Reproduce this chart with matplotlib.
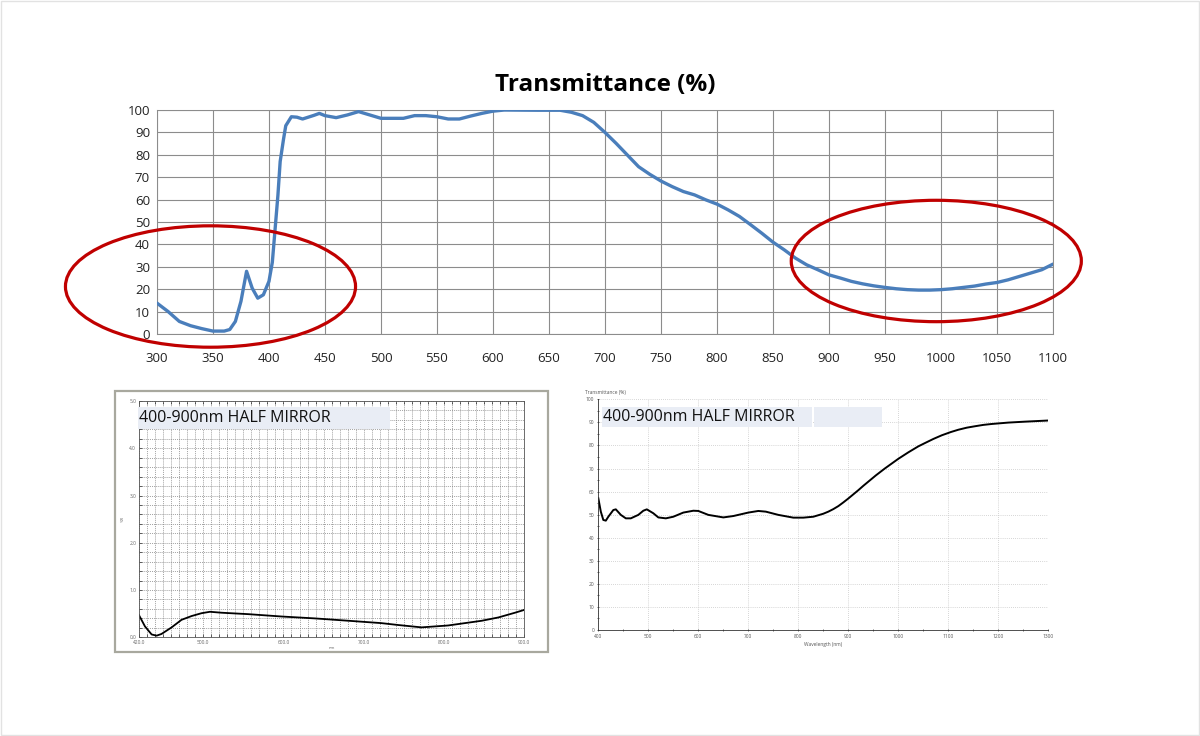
import matplotlib as mpl
import matplotlib.pyplot as plt
from matplotlib.patches import Ellipse, Rectangle
from matplotlib.ticker import MultipleLocator, FormatStrFormatter

mpl.rcParams.update({
    "font.family": ["Open Sans", "DejaVu Sans"],
    "axes.linewidth": 0.75,
})

# --- Data: main transmittance curve (wavelength nm, %T) ---
main_wl = [300, 310, 320, 330, 340, 350, 360, 365, 370, 375, 380, 385, 390, 395,
           400, 403, 405, 408, 410, 413, 415, 420, 425, 430, 440, 445, 450, 460,
           470, 480, 490, 500, 520, 530, 540, 550, 560, 570, 580, 590, 600, 610,
           640, 660, 670, 680, 690, 700, 710, 720, 730, 740, 750, 760, 770, 780,
           790, 800, 810, 820, 830, 840, 850, 860, 870, 880, 890, 900, 910, 920,
           930, 940, 950, 960, 970, 980, 990, 1000, 1010, 1020, 1030, 1040, 1050,
           1060, 1070, 1080, 1090, 1100]
main_t = [13.8, 10.0, 5.6, 3.7, 2.4, 1.3, 1.3, 2.0, 5.6, 14.6, 28.0, 20.5, 16.0, 17.5,
          23.5, 32.0, 44.0, 62.0, 77.0, 87.0, 93.0, 97.0, 96.8, 96.0, 97.6, 98.5, 97.5, 96.6,
          97.8, 99.3, 97.8, 96.3, 96.3, 97.5, 97.5, 97.0, 96.0, 96.0, 97.3, 98.5, 99.5, 100.0,
          99.9, 99.9, 99.0, 97.5, 94.5, 90.0, 85.1, 79.9, 74.7, 71.3, 68.3, 65.8, 63.6, 62.1,
          59.9, 58.0, 55.4, 52.5, 48.8, 45.0, 41.0, 37.6, 33.9, 30.9, 28.7, 26.4, 25.0, 23.5,
          22.4, 21.5, 20.8, 20.2, 19.8, 19.6, 19.6, 19.8, 20.2, 20.8, 21.4, 22.3, 23.0,
          24.2, 25.7, 27.2, 28.7, 31.2]

# --- Data: half-mirror reflectance (bottom left, %R) ---
refl_wl = [420, 427.5, 435.8, 442, 448, 460.7, 473, 485.6, 498, 508.5, 523, 556,
           597.7, 639, 681, 722, 743, 772, 805, 826, 847, 867.7, 888.4, 900]
refl_r = [0.47, 0.23, 0.06, 0.035, 0.07, 0.21, 0.37, 0.45, 0.51, 0.54, 0.52, 0.49,
          0.44, 0.40, 0.35, 0.30, 0.26, 0.21, 0.25, 0.30, 0.35, 0.42, 0.52, 0.58]

# --- Data: half-mirror transmittance (bottom right, %T) ---
half_wl = [400, 405, 410, 415, 420, 430, 435, 445, 455, 465, 480, 490, 497, 510,
           520, 535, 550, 570, 590, 600, 620, 650, 670, 700, 720, 735, 760, 790,
           810, 830, 850, 860, 870, 880, 890, 900, 910, 920, 930, 940, 955, 973,
           1000, 1020, 1040, 1053, 1070, 1087, 1105, 1120, 1137, 1153, 1170, 1187,
           1220, 1253, 1300]
half_t = [57.1, 51.3, 47.7, 47.4, 49.1, 52.0, 52.3, 49.9, 48.4, 48.4, 49.9, 51.7,
          52.3, 50.6, 48.8, 48.4, 49.1, 50.9, 51.7, 51.6, 49.9, 48.8, 49.4, 50.9,
          51.6, 51.3, 49.9, 48.7, 48.7, 49.1, 50.4, 51.3, 52.4, 53.7, 55.3, 57.0,
          58.8, 60.6, 62.5, 64.3, 67.0, 70.0, 74.2, 77.0, 79.6, 81.0, 82.8, 84.4,
          85.8, 86.8, 87.7, 88.3, 88.9, 89.3, 89.9, 90.3, 90.8]

main_title = "Transmittance (%)"
box_label = "400-900nm HALF MIRROR"

fig = plt.figure(figsize=(12, 7.36), dpi=100)
fig.patches.append(Rectangle((0.001, 0.001), 0.998, 0.998, transform=fig.transFigure,
                             fill=False, edgecolor="#e2e2e2", linewidth=1.0))

# --- Main chart ---
ax = fig.add_axes([0.1308, 0.5462, 0.7467, 0.3043])
ax.plot(main_wl, main_t, color="#4a7ebb", linewidth=2.4, solid_capstyle="round",
        solid_joinstyle="round", zorder=3)
ax.set_xlim(300, 1100)
ax.set_ylim(0, 100)
ax.xaxis.set_major_locator(MultipleLocator(50))
ax.yaxis.set_major_locator(MultipleLocator(10))
ax.grid(True, color="#8c8c8c", linewidth=0.8)
ax.set_axisbelow(True)
for s in ax.spines.values():
    s.set_color("#8c8c8c")
ax.tick_params(axis="both", length=0, labelsize=9.5, labelcolor="#222222")
ax.tick_params(axis="x", pad=13)
ax.tick_params(axis="y", pad=5)
ax.set_title(main_title, fontsize=17.5, fontweight="bold", pad=14)

for cx, cy in [(347.8, 21.2), (995.8, 32.6)]:
    ax.add_patch(Ellipse((cx, cy), 259, 54.2, fill=False, edgecolor="#c00000",
                         linewidth=2.3, clip_on=False, zorder=4))

# --- Bottom left: reflectance panel ---
fig.patches.append(Rectangle((0.0958, 0.1141), 0.3609, 0.3547, transform=fig.transFigure,
                             fill=False, edgecolor="#a8a89e", linewidth=1.6))
ax2 = fig.add_axes([0.1158, 0.1341, 0.3211, 0.3211])
ax2.plot(refl_wl, refl_r, color="black", linewidth=1.3)
ax2.set_xlim(420, 900)
ax2.set_ylim(0, 5)
ax2.set_xticks([420, 500, 600, 700, 800, 900])
ax2.xaxis.set_minor_locator(MultipleLocator(10))
ax2.yaxis.set_major_locator(MultipleLocator(1))
ax2.yaxis.set_minor_locator(MultipleLocator(0.2))
ax2.xaxis.set_major_formatter(FormatStrFormatter("%.1f"))
ax2.yaxis.set_major_formatter(FormatStrFormatter("%.1f"))
ax2.grid(True, which="both", color="#808080", linestyle=(0, (1.5, 1.5)), linewidth=0.5)
ax2.set_axisbelow(True)
for s in ax2.spines.values():
    s.set_color("#555555")
    s.set_linewidth(0.6)
ax2.tick_params(which="both", direction="in", length=2, width=0.4, labelsize=3.5,
                labelcolor="#666666", pad=2, top=True)
ax2.set_xlabel("nm", fontsize=3, color="#666666", labelpad=1)
ax2.set_ylabel("%R", fontsize=3, color="#666666", labelpad=3)

fig.patches.append(Rectangle((0.1148, 0.4171), 0.2102, 0.0299, transform=fig.transFigure,
                             facecolor="#e9edf5", edgecolor="none", zorder=5))
fig.text(0.1155, 0.4315, box_label, fontsize=11.5, va="center", ha="left",
         color="#111111", zorder=6)

# --- Bottom right: half-mirror transmittance panel ---
ax3 = fig.add_axes([0.4986, 0.144, 0.375, 0.3135])
ax3.plot(half_wl, half_t, color="black", linewidth=1.4)
ax3.set_xlim(400, 1300)
ax3.set_ylim(0, 100)
ax3.xaxis.set_major_locator(MultipleLocator(100))
ax3.xaxis.set_minor_locator(MultipleLocator(50))
ax3.yaxis.set_major_locator(MultipleLocator(10))
ax3.yaxis.set_minor_locator(MultipleLocator(5))
ax3.grid(True, color="#c8c8c8", linestyle=(0, (1, 1.5)), linewidth=0.6)
ax3.set_axisbelow(True)
ax3.spines[["top", "right"]].set_visible(False)
for s in ("left", "bottom"):
    ax3.spines[s].set_color("#333333")
    ax3.spines[s].set_linewidth(0.6)
ax3.tick_params(which="both", direction="inout", length=2, width=0.4, labelsize=3.5,
                labelcolor="#555555", pad=2)
ax3.set_xlabel("Wavelength (nm)", fontsize=3.5, color="#555555", labelpad=2)
ax3.text(-0.03, 1.02, "Transmittance (%)", transform=ax3.transAxes, fontsize=3.5,
         color="#555555", ha="left", va="bottom")

fig.patches.append(Rectangle((0.5014, 0.4198), 0.1756, 0.0272, transform=fig.transFigure,
                             facecolor="#e9edf5", edgecolor="none", zorder=5))
fig.patches.append(Rectangle((0.6782, 0.4198), 0.0565, 0.0272, transform=fig.transFigure,
                             facecolor="#e9edf5", edgecolor="none", zorder=5))
fig.text(0.5025, 0.4334, box_label, fontsize=11.5, va="center", ha="left",
         color="#111111", zorder=6)

fig.savefig("out.png", dpi=100)
plt.close(fig)
